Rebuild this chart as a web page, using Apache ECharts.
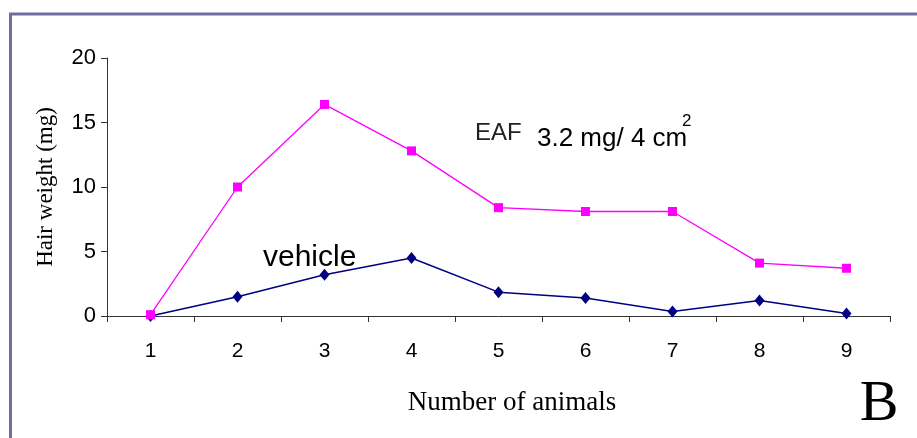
<!DOCTYPE html>
<html>
<head>
<meta charset="utf-8">
<script src="https://cdn.jsdelivr.net/npm/echarts@6/dist/echarts.min.js"></script>
<style>html,body{margin:0;padding:0;background:#fff}#c{width:917px;height:438px}</style>
</head>
<body>
<div id="c"></div>
<script>
const categories = ['1','2','3','4','5','6','7','8','9'];
const eafValues = [0.1, 10.0, 16.4, 12.8, 8.4, 8.1, 8.1, 4.1, 3.7];
const vehicleValues = [0.0, 1.5, 3.2, 4.5, 1.85, 1.4, 0.35, 1.2, 0.2];
const yTicks = {min: 0, max: 20, interval: 5};

const chart = echarts.init(document.getElementById('c'));
chart.setOption({
  animation: false,
  backgroundColor: '#fff',
  grid: {left: 107, right: 27, top: 58, bottom: 122, containLabel: false},
  xAxis: {
    type: 'category', data: categories, boundaryGap: true,
    axisLine: {lineStyle: {color: '#333', width: 1}},
    axisTick: {show: true, length: 6, inside: false, lineStyle: {color: '#333'}},
    axisLabel: {color: '#000', fontFamily: 'Arial, Liberation Sans', fontSize: 21, margin: 25},
    splitLine: {show: false}
  },
  yAxis: {
    type: 'value', min: yTicks.min, max: yTicks.max, interval: yTicks.interval,
    axisLine: {show: true, lineStyle: {color: '#333', width: 1}},
    axisTick: {show: true, length: 6, lineStyle: {color: '#333'}},
    axisLabel: {color: '#000', fontFamily: 'Arial, Liberation Sans', fontSize: 22, margin: 11},
    splitLine: {show: false}
  },
  series: [
    {
      name: 'EAF', type: 'line', data: eafValues,
      symbol: 'rect', symbolSize: 9,
      lineStyle: {color: '#ff00ff', width: 1.3},
      itemStyle: {color: '#ff00ff'}, z: 3
    },
    {
      name: 'vehicle', type: 'line', data: vehicleValues,
      symbol: 'diamond', symbolSize: [10, 12],
      lineStyle: {color: '#000080', width: 1.5},
      itemStyle: {color: '#000080'}, z: 2
    }
  ],
  graphic: [
    {type: 'rect', shape: {x: 10.5, y: 14, width: 1000, height: 1000}, style: {fill: 'none', stroke: '#6e6ea2', lineWidth: 3}, silent: true},
    {type: 'text', x: 46, y: 187, rotation: Math.PI/2, style: {text: 'Hair weight (mg)', fontFamily: 'Times New Roman, Liberation Serif', fontSize: 23, fill: '#000', align: 'center', verticalAlign: 'middle'}},
    {type: 'text', x: 512, y: 403, style: {text: 'Number of animals', fontFamily: 'Times New Roman, Liberation Serif', fontSize: 27, fill: '#000', align: 'center', verticalAlign: 'middle'}},
    {type: 'text', x: 879, y: 405, style: {text: 'B', fontFamily: 'Times New Roman, Liberation Serif', fontSize: 58, fill: '#000', align: 'center', verticalAlign: 'middle'}},
    {type: 'text', x: 475, y: 133, style: {text: 'EAF', fontFamily: 'Arial, Liberation Sans', fontSize: 24, fill: '#222', align: 'left', verticalAlign: 'middle'}},
    {type: 'text', x: 537, y: 139, style: {text: '3.2 mg/ 4 cm', fontFamily: 'Arial, Liberation Sans', fontSize: 26, fill: '#000', align: 'left', verticalAlign: 'middle'}},
    {type: 'text', x: 682, y: 121, style: {text: '2', fontFamily: 'Arial, Liberation Sans', fontSize: 17, fill: '#000', align: 'left', verticalAlign: 'middle'}},
    {type: 'text', x: 263, y: 258, style: {text: 'vehicle', fontFamily: 'Arial, Liberation Sans', fontSize: 30, fill: '#000', align: 'left', verticalAlign: 'middle'}}
  ]
});
</script>
</body>
</html>
